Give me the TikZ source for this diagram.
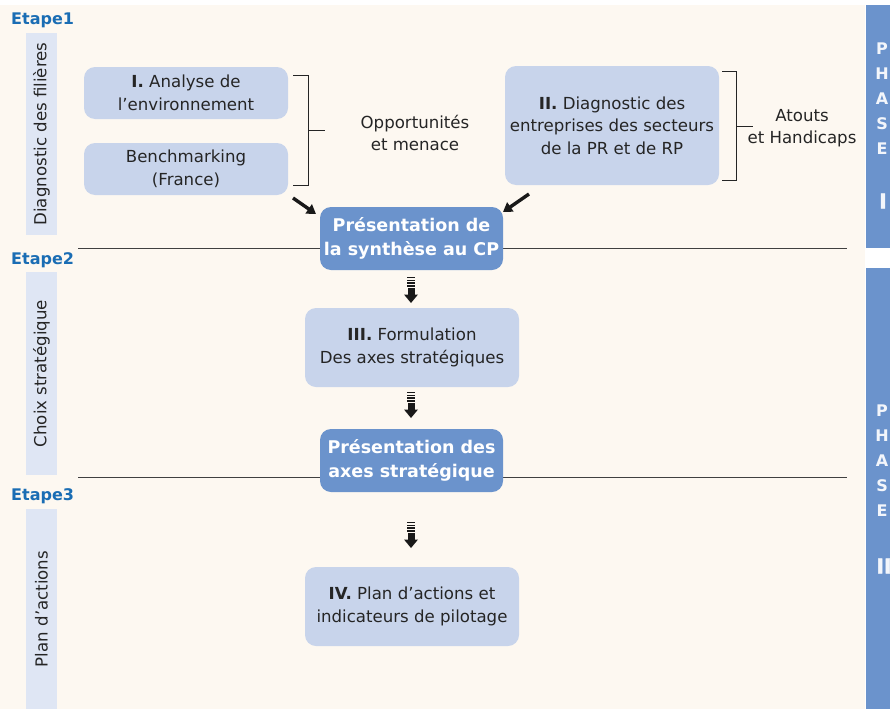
\documentclass[tikz,border=0pt]{standalone}
\usepackage{fontspec}
\setmainfont{DejaVu Sans}
\newfontfamily\heavyfont{DejaVu Sans}[BoldFeatures={FakeBold=2.5}]
\usetikzlibrary{arrows.meta}
\definecolor{cream}{HTML}{FDF8F1}
\definecolor{lightbox}{HTML}{C8D4EB}
\definecolor{darkbox}{HTML}{6B93CC}
\definecolor{sidebar}{HTML}{DFE6F4}
\definecolor{etape}{HTML}{1A6DB4}
\definecolor{txt}{HTML}{252525}
\begin{document}
\begin{tikzpicture}[x=1pt,y=-1pt,
  lbox/.style={fill=lightbox, rounded corners=11pt, text=txt, align=center, inner sep=0pt,
     font=\fontsize{16.6}{22.5}\selectfont},
  dbox/.style={fill=darkbox, rounded corners=11pt, text=white, align=center, inner sep=0pt,
     font=\bfseries\fontsize{17.5}{24}\selectfont},
  plain/.style={text=txt, align=center, font=\fontsize{16.6}{22.5}\selectfont},
  etapelbl/.style={text=etape, font=\bfseries\fontsize{16}{18}\selectfont, anchor=west, inner sep=0pt},
  sidebox/.style={fill=sidebar, minimum width=31, inner sep=0pt},
  sidetxt/.style={rotate=90, text=txt, font=\fontsize{16.6}{20}\selectfont},
  phaselbl/.style={text=white!92!darkbox, font=\bfseries\fontsize{16}{25}\selectfont, align=center, inner sep=0pt},
  phasenum/.style={text=white!92!darkbox, font=\heavyfont\bfseries\fontsize{20}{20}\selectfont, inner sep=0pt},
  diagarrow/.style={line width=3.4pt, -{Triangle[length=9pt,width=11pt]}, black!90},
  bracket/.style={line width=0.8pt, txt},
  sepline/.style={line width=0.9pt, black!75},
  downarr/.pic={
    \fill[black!90] (-4,0) rectangle (4,1.2);
    \fill[black!90] (-4,2.6) rectangle (4,3.9);
    \fill[black!90] (-4,5.2) rectangle (4,6.6);
    \fill[black!90] (-4,8) rectangle (4,9.6);
    \fill[black!90] (-3.5,11) rectangle (3.5,18);
    \fill[black!90] (-7,17.5) -- (7,17.5) -- (0,26) -- cycle;
  }
]
\useasboundingbox (0,0) rectangle (890,709);
\fill[white] (0,0) rectangle (890,709);
\fill[cream] (0,5) rectangle (865,709);

% phase bars
\fill[darkbox] (866,5) rectangle (890,248);
\fill[darkbox] (866,268) rectangle (890,709);
\node[phaselbl, anchor=north] (ph1) at (882,43) {P\\H\\A\\S\\E};
\node[phasenum] (ph1n) at (883,201) {I};
\node[phaselbl, anchor=north] (ph2) at (882,405) {P\\H\\A\\S\\E};
\node[phasenum] (ph2n) at (884,566) {II};

% left side labels
\node[etapelbl] (e1) at (11,20) {Etape1};
\node[sidebox, minimum height=202] (s1) at (41.5,134) {};
\node[sidetxt] at (s1.center) {Diagnostic des filières};
\node[etapelbl] (e2) at (11,260) {Etape2};
\node[sidebox, minimum height=203] (s2) at (41.5,373.5) {};
\node[sidetxt] at (s2.center) {Choix stratégique};
\node[etapelbl] (e3) at (11,496) {Etape3};
\node[sidebox, minimum height=200] (s3) at (41.5,609) {};
\node[sidetxt] at (s3.center) {Plan d’actions};

% separator lines
\draw[sepline] (78,248) -- (847,248);
\draw[sepline] (78,477) -- (847,477);

% top boxes
\node[lbox, minimum width=204, minimum height=52] (b1) at (186,93) {\textbf{I.} Analyse de\\l’environnement};
\node[lbox, minimum width=204, minimum height=52] (b2) at (186,169) {Benchmarking\\(France)};
\draw[bracket] (293,75) -- (308,75) -- (308,185) -- (293,185);
\draw[bracket] (308,130) -- (325,130);
\node[plain] (opp) at (415,133) {Opportunités\\et menace};

\node[lbox, minimum width=214, minimum height=119] (b3) at (612,125.5) {\textbf{II.} Diagnostic des\\entreprises des secteurs\\de la PR et de RP};
\draw[bracket] (722,71) -- (736,71) -- (736,180) -- (722,180);
\draw[bracket] (736,126) -- (753,126);
\node[plain] (atouts) at (802,128) {Atouts\\et Handicaps};

% synthesis
\node[dbox, minimum width=183, minimum height=63] (p1) at (411.5,238.5) {Présentation de\\la synthèse au CP};
\coordinate (a1s) at (293,198);
\coordinate (a1e) at (316,214);
\coordinate (a2s) at (529,194);
\coordinate (a2e) at (503,212);
\draw[diagarrow] (a1s) -- (a1e);
\draw[diagarrow] (a2s) -- (a2e);

\pic at (411,277) {downarr};
\node[lbox, minimum width=214, minimum height=79] (b4) at (412,347.5) {\textbf{III.} Formulation\\Des axes stratégiques};
\pic at (411,392) {downarr};
\node[dbox, minimum width=183, minimum height=63] (p2) at (411.5,460.5) {Présentation des\\axes stratégique};
\pic at (411,522) {downarr};
\node[lbox, minimum width=214, minimum height=79] (b5) at (412,606.5) {\textbf{IV.} Plan d’actions et\\indicateurs de pilotage};
\end{tikzpicture}
\end{document}
